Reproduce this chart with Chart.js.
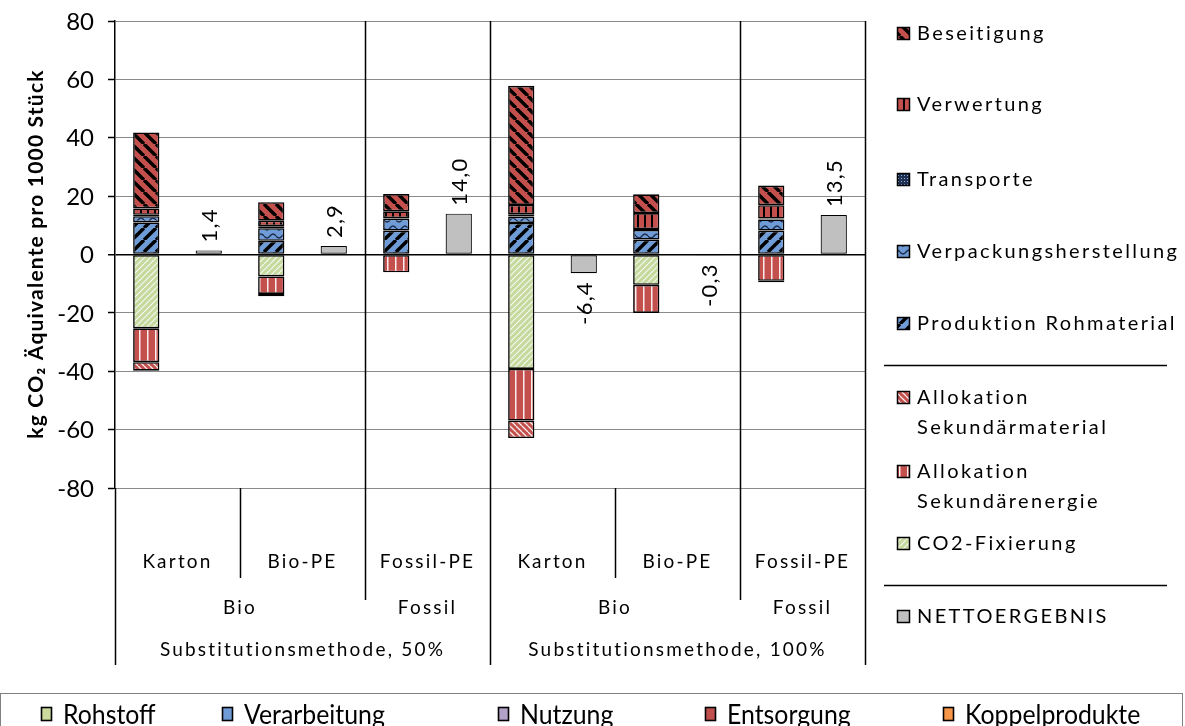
<!DOCTYPE html>
<html><head><meta charset="utf-8">
<script src="https://cdn.jsdelivr.net/npm/chart.js@4"></script>
<style>
html,body{margin:0;padding:0;background:#fff;}
#wrap{position:relative;width:1185px;height:726px;overflow:hidden;}
canvas{display:block;}
</style></head><body>
<div id="wrap"><canvas id="c" width="1185" height="726"></canvas></div>
<script>
// ---- DATA ----
const slots = ['Karton','Karton netto','Bio-PE','Bio-PE netto','Fossil-PE','Fossil-PE netto',
               'Karton','Karton netto','Bio-PE','Bio-PE netto','Fossil-PE','Fossil-PE netto'];
const produktion   = [11.0,null, 4.7,null, 8.2,null, 10.8,null, 5.1,null, 8.2,null];
const verpackung   = [ 2.1,null, 4.3,null, 4.1,null,  2.2,null, 3.3,null, 3.8,null];
const transporte   = [ 0.5,null, 0.7,null, 0.2,null,  0.8,null, 0.3,null, 0.3,null];
const verwertung   = [ 2.2,null, 1.9,null, 2.3,null,  3.2,null, 5.5,null, 4.6,null];
const beseitigung  = [26.0,null, 6.3,null, 5.9,null, 40.8,null, 6.4,null, 6.7,null];
const co2Fix       = [-25.3,null,-7.5,null, null,null,-39.2,null,-10.4,null, null,null];
const sekEnergie   = [-11.6,null,-6.0,null,-6.1,null,-17.7,null,-9.6,null,-9.0,null];
const sekMaterial  = [-2.9,null,-0.8,null, null,null, -6.0,null, null,null,-0.5,null];
const netto        = [null,1.4,null,2.9,null,14.0,null,-6.4,null,-0.3,null,13.5];
const nettoLabels  = ['','1,4','','2,9','','14,0','','-6,4','','-0,3','','13,5'];

const level1 = ['Karton','Bio-PE','Fossil-PE','Karton','Bio-PE','Fossil-PE'];
const level2 = ['Bio','Fossil','Bio','Fossil'];
const level2Span = [[0,4],[4,6],[6,10],[10,12]];
const level3 = ['Substitutionsmethode, 50%','Substitutionsmethode, 100%'];
const level3Span = [[0,6],[6,12]];
const yTicks = [-80,-60,-40,-20,0,20,40,60,80];
const yTitle = 'kg CO\u2082 \u00C4quivalente pro 1000 St\u00FCck';
const bottomLegend = ['Rohstoff','Verarbeitung','Nutzung','Entsorgung','Koppelprodukte'];
const bottomLegendColors = ['#c9da9c','#6f9bd6','#b3a2c7','#c0504d','#f79646'];

// ---- STYLES ----
const RED='#c4504d', BLUE='#6f9bd6', GREEN='#c6d99e', GRAY='#c0c0c0';
const mainCtx = document.getElementById('c').getContext('2d');
function pat(bg,w,h,draw){
  const c=document.createElement('canvas'); c.width=w; c.height=h;
  const g=c.getContext('2d'); g.fillStyle=bg; g.fillRect(0,0,w,h); if(draw) draw(g,w,h);
  return mainCtx.createPattern(c,'repeat');
}
function diag(g,w,color,lw,back){
  g.strokeStyle=color; g.lineWidth=lw; g.beginPath();
  for(let k=-1;k<=1;k++){
    if(back){ g.moveTo(k*w,0); g.lineTo(k*w+w,w);} else { g.moveTo(k*w,w); g.lineTo(k*w+w,0);}
  }
  g.stroke();
}
const P = {
  beseitigung: pat(RED,12,12,(g,w)=>diag(g,w,'#000',3.4,true)),
  verwertung: pat(RED,7,7,(g)=>{g.fillStyle='#000';g.fillRect(0,0,2,7);}),
  transporte: pat('#1e2f4f',3,3,(g)=>{g.fillStyle='#8db3e2';g.fillRect(1,1,1,1);}),
  verpackung: pat(BLUE,12,8,(g)=>{g.strokeStyle='#1a2a48';g.lineWidth=1.4;g.beginPath();
     for(let x=0;x<=12;x+=0.5){const y=4+2*Math.sin(x/12*2*Math.PI); x===0?g.moveTo(x,y):g.lineTo(x,y);} g.stroke();}),
  produktion: pat(BLUE,12,12,(g,w)=>diag(g,w,'#000',3.4,false)),
  sekMaterial: pat(RED,6,6,(g,w)=>diag(g,w,'rgba(255,255,255,0.9)',1.3,true)),
  sekEnergie: pat(RED,8,8,(g)=>{g.fillStyle='rgba(255,255,255,0.9)';g.fillRect(3,0,1.5,8);}),
  co2: pat(GREEN,6,6,(g,w)=>diag(g,w,'rgba(255,255,255,0.85)',1.2,false)),
  netto: GRAY
};

const rightLegend = [
  {lines:['Beseitigung'], p:'beseitigung', y:34},
  {lines:['Verwertung'], p:'verwertung', y:105},
  {lines:['Transporte'], p:'transporte', y:180},
  {lines:['Verpackungsherstellung'], p:'verpackung', y:252},
  {lines:['Produktion Rohmaterial'], p:'produktion', y:324},
  {sep:365},
  {lines:['Allokation','Sekundärmaterial'], p:'sekMaterial', y:398},
  {lines:['Allokation','Sekundärenergie'], p:'sekEnergie', y:472},
  {lines:['CO2-Fixierung'], p:'co2', y:544},
  {sep:585},
  {lines:['NETTOERGEBNIS'], p:'netto', y:617}
];

function ds(label,data,p,bw){
  return {label,data,backgroundColor:P[p],borderColor:'#000',borderWidth:bw||1.6,borderSkipped:false,
          barPercentage:0.42,categoryPercentage:1.0,stack:'s'};
}

const FONT='Lato';

const extras = {
  id:'extras',
  afterDatasetsDraw(chart){
    const ctx=chart.ctx, ca=chart.chartArea, ys=chart.scales.y;
    const slotW=(ca.right-ca.left)/slots.length;
    const bx=i=>ca.left+i*slotW;
    ctx.save();
    // y tick labels
    ctx.fillStyle='#000'; ctx.font='24px '+FONT; ctx.textAlign='right'; ctx.textBaseline='middle'; ctx.letterSpacing='0px';
    yTicks.forEach(v=>ctx.fillText(String(v),94,ys.getPixelForValue(v)+1));
    // vertical lines
    ctx.strokeStyle='#000'; ctx.lineWidth=1.5;
    const vl=[[0,ca.bottom,665],[2,ca.bottom,578],[4,ca.top,600],[6,ca.top,665],[8,ca.bottom,578],[10,ca.top,600],[12,ca.top,665]];
    vl.forEach(([i,y0,y1])=>{ctx.beginPath();ctx.moveTo(Math.round(bx(i))+0.5,y0);ctx.lineTo(Math.round(bx(i))+0.5,y1);ctx.stroke();});
    // category labels
    ctx.textAlign='center';
    ctx.font='19px '+FONT; ctx.letterSpacing='2.2px';
    level1.forEach((t,k)=>ctx.fillText(t,(bx(2*k)+bx(2*k+2))/2,562));
    level2.forEach((t,k)=>ctx.fillText(t,(bx(level2Span[k][0])+bx(level2Span[k][1]))/2,608));
    level3.forEach((t,k)=>ctx.fillText(t,(bx(level3Span[k][0])+bx(level3Span[k][1]))/2,650));
    // data labels
    ctx.font='22px '+FONT; ctx.letterSpacing='1.2px';
    const meta=chart.getDatasetMeta(chart.data.datasets.length-1);
    netto.forEach((v,i)=>{
      if(v===null) return;
      const el=meta.data[i];
      ctx.save();
      if(v>=0){ ctx.translate(el.x,Math.min(el.y,el.base)-8); ctx.rotate(-Math.PI/2); ctx.textAlign='left'; }
      else { ctx.translate(el.x,Math.max(el.y,el.base)+8); ctx.rotate(-Math.PI/2); ctx.textAlign='right'; }
      ctx.textBaseline='middle'; ctx.fillText(nettoLabels[i],0,1);
      ctx.restore();
    });
    // y title
    ctx.save(); ctx.translate(36,254); ctx.rotate(-Math.PI/2);
    ctx.font='bold 21px '+FONT; ctx.letterSpacing='1.2px'; ctx.textAlign='center'; ctx.textBaseline='middle';
    ctx.fillText(yTitle,0,0); ctx.restore();
    // right legend
    ctx.font='20px '+FONT; ctx.letterSpacing='2.4px'; ctx.textAlign='left'; ctx.textBaseline='middle';
    rightLegend.forEach(it=>{
      if(it.sep){ctx.strokeStyle='#000';ctx.lineWidth=1.5;ctx.beginPath();ctx.moveTo(884,it.sep+0.5);ctx.lineTo(1167,it.sep+0.5);ctx.stroke();return;}
      ctx.fillStyle=P[it.p]; ctx.fillRect(897,it.y-7,13,13);
      ctx.strokeStyle='#000'; ctx.lineWidth=1.5; ctx.strokeRect(897.5,it.y-6.5,12,12);
      ctx.fillStyle='#000';
      it.lines.forEach((l,j)=>ctx.fillText(l,917,it.y+j*30));
    });
    // bottom legend box
    ctx.strokeStyle='#808080'; ctx.lineWidth=1; ctx.strokeRect(0.5,693.5,1182,40);
    const bxs=[41,222,498,705,943];
    ctx.letterSpacing='0px';
    bottomLegend.forEach((t,k)=>{
      ctx.fillStyle=bottomLegendColors[k]; ctx.fillRect(bxs[k],707,10,13);
      ctx.strokeStyle='#000'; ctx.lineWidth=1.6; ctx.strokeRect(bxs[k]+0.5,707.5,10,13);
      ctx.save(); ctx.translate(bxs[k]+22,714); ctx.scale(0.92,1);
      ctx.fillStyle='#000'; ctx.font='27px '+FONT; ctx.textBaseline='middle'; ctx.fillText(t,0,1);
      ctx.restore();
    });
    ctx.restore();
  }
};

new Chart(document.getElementById('c'),{
  type:'bar',
  data:{labels:slots,datasets:[
    ds('Produktion Rohmaterial',produktion,'produktion'),
    ds('Verpackungsherstellung',verpackung,'verpackung'),
    ds('Transporte',transporte,'transporte'),
    ds('Verwertung',verwertung,'verwertung'),
    ds('Beseitigung',beseitigung,'beseitigung'),
    ds('CO2-Fixierung',co2Fix,'co2'),
    ds('Allokation Sekundärenergie',sekEnergie,'sekEnergie'),
    ds('Allokation Sekundärmaterial',sekMaterial,'sekMaterial'),
    ds('NETTOERGEBNIS',netto,'netto',1.2)
  ]},
  options:{
    responsive:false, animation:false, devicePixelRatio:1,
    layout:{padding:{left:0,top:21,right:320,bottom:238}},
    plugins:{legend:{display:false},tooltip:{enabled:false}},
    scales:{
      x:{stacked:true,display:false,grid:{display:false}},
      y:{stacked:true,min:-80,max:80,
         afterBuildTicks:s=>{s.ticks=yTicks.map(v=>({value:v}));},
         afterFit:s=>{s.width=115;},
         ticks:{display:false},
         grid:{color:c=>c.tick&&c.tick.value===0?'#000':'#8a8a8a',lineWidth:c=>c.tick&&c.tick.value===0?1.5:1,
               tickColor:'#000',tickLength:7,tickWidth:1.5,drawTicks:true},
         border:{display:true,color:'#000',width:1.5}}
    }
  },
  plugins:[extras]
});
</script>
</body></html>
